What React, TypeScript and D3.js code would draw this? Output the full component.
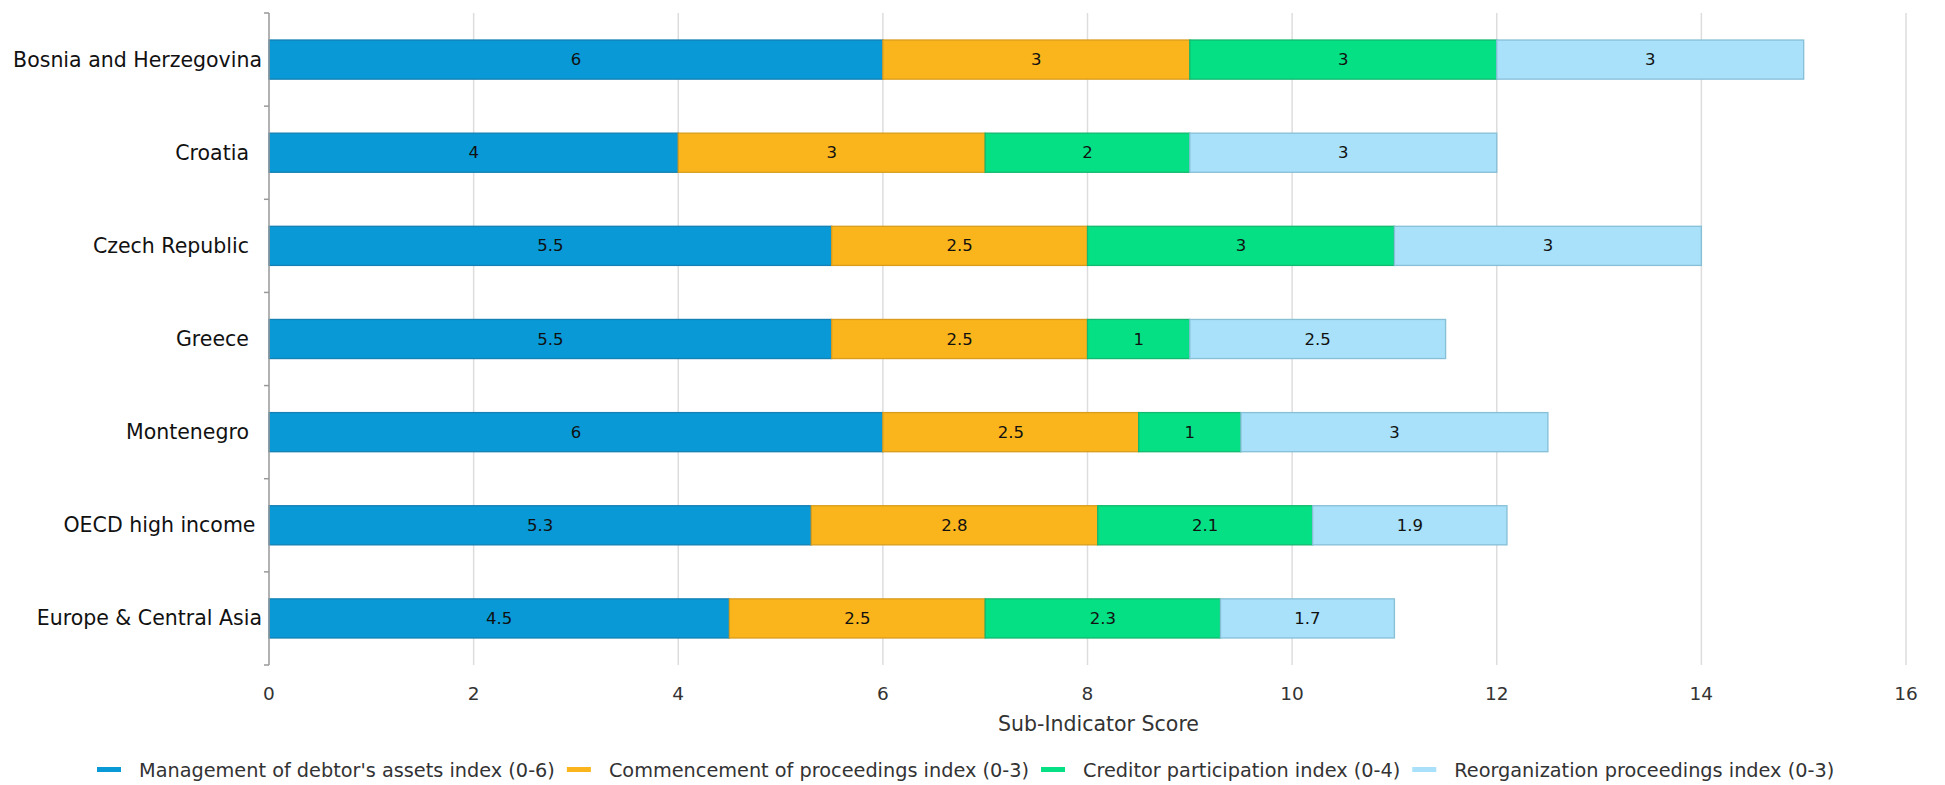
import React, { useEffect, useRef } from 'react';
import * as d3 from 'd3';

const categories = [
  'Bosnia and Herzegovina',
  'Croatia',
  'Czech Republic',
  'Greece',
  'Montenegro',
  'OECD high income',
  'Europe & Central Asia',
];
// labels as displayed (some carry trailing spaces in the source)
const categoryLabels = [
  'Bosnia and Herzegovina',
  'Croatia  ',
  'Czech Republic  ',
  'Greece  ',
  'Montenegro  ',
  'OECD high income ',
  'Europe & Central Asia',
];
const seriesNames = [
  "Management of debtor's assets index (0-6)",
  'Commencement of proceedings index (0-3)',
  'Creditor participation index (0-4)',
  'Reorganization proceedings index (0-3)',
];
const management = [6, 4, 5.5, 5.5, 6, 5.3, 4.5];
const commencement = [3, 3, 2.5, 2.5, 2.5, 2.8, 2.5];
const creditor = [3, 2, 3, 1, 1, 2.1, 2.3];
const reorganization = [3, 3, 3, 2.5, 3, 1.9, 1.7];
const xTicks = [0, 2, 4, 6, 8, 10, 12, 14, 16];
const fills = ['#0899d6', '#fab51c', '#06e084', '#a8e1f9'];
const strokes = ['#1480b4', '#d99c1c', '#12b96e', '#86bfd6'];
const axisTitle = 'Sub-Indicator Score';

const W = 1945;
const H = 785;
const FONT = "'DejaVu Sans', sans-serif";

export default function App() {
  const ref = useRef<SVGSVGElement | null>(null);

  useEffect(() => {
    const svg = d3.select(ref.current);
    svg.selectAll('*').remove();

    const left = 269;
    const right = 1906;
    const top = 13;
    const bottom = 665;

    const x = d3.scaleLinear().domain([0, 16]).range([left, right]);
    const y = d3.scaleBand<string>().domain(categories).range([top, bottom]).padding(0);
    const bw = y.bandwidth();
    const barH = bw * 0.42;

    const rows = categories.map((c, i) => ({
      cat: c,
      s0: management[i],
      s1: commencement[i],
      s2: creditor[i],
      s3: reorganization[i],
    }));
    const stack = d3.stack<any>().keys(['s0', 's1', 's2', 's3']);
    const layers = stack(rows);

    // grid
    svg
      .append('g')
      .selectAll('line')
      .data(xTicks.filter((t) => t !== 0))
      .join('line')
      .attr('x1', (d) => x(d))
      .attr('x2', (d) => x(d))
      .attr('y1', top)
      .attr('y2', bottom)
      .attr('stroke', '#dddddd')
      .attr('stroke-width', 1.5);

    // tick labels
    svg
      .append('g')
      .selectAll('text')
      .data(xTicks)
      .join('text')
      .attr('x', (d) => x(d))
      .attr('y', 693)
      .attr('text-anchor', 'middle')
      .attr('dominant-baseline', 'central')
      .attr('font-family', FONT)
      .attr('font-size', 18.5)
      .attr('fill', '#333')
      .text((d) => String(d));

    // axis title
    svg
      .append('text')
      .attr('x', (left + right) / 2 + 11)
      .attr('y', 724)
      .attr('text-anchor', 'middle')
      .attr('dominant-baseline', 'central')
      .attr('font-family', FONT)
      .attr('font-size', 20.5)
      .attr('fill', '#333')
      .text(axisTitle);

    // bars
    layers.forEach((layer, li) => {
      const g = svg.append('g');
      g.selectAll('rect')
        .data(layer)
        .join('rect')
        .attr('x', (d) => x(d[0]))
        .attr('y', (d) => (y(d.data.cat) as number) + (bw - barH) / 2)
        .attr('width', (d) => x(d[1]) - x(d[0]))
        .attr('height', barH)
        .attr('fill', fills[li])
        .attr('stroke', strokes[li])
        .attr('stroke-width', 1.3);
      g.selectAll('text')
        .data(layer)
        .join('text')
        .attr('x', (d) => (x(d[0]) + x(d[1])) / 2)
        .attr('y', (d) => (y(d.data.cat) as number) + bw / 2)
        .attr('text-anchor', 'middle')
        .attr('dominant-baseline', 'central')
        .attr('font-family', FONT)
        .attr('font-size', 16.5)
        .attr('fill', '#111')
        .text((d) => String(+(d[1] - d[0]).toFixed(1)));
    });

    // y axis
    const ya = svg.append('g').attr('stroke', '#999').attr('stroke-width', 1.5);
    ya.append('line').attr('x1', left).attr('x2', left).attr('y1', top).attr('y2', bottom);
    const bounds = categories.map((c) => y(c) as number).concat([bottom]);
    ya.selectAll('line.tk')
      .data(bounds)
      .join('line')
      .attr('class', 'tk')
      .attr('x1', left - 5)
      .attr('x2', left)
      .attr('y1', (d) => d)
      .attr('y2', (d) => d);

    // category labels
    svg
      .append('g')
      .selectAll('text')
      .data(categories)
      .join('text')
      .attr('x', left - 7)
      .attr('y', (d) => (y(d) as number) + bw / 2)
      .attr('text-anchor', 'end')
      .attr('dominant-baseline', 'central')
      .attr('font-family', FONT)
      .attr('font-size', 20.5)
      .attr('fill', '#111')
      .style('white-space', 'pre')
      .text((d, i) => categoryLabels[i]);

    // legend
    const lg = svg.append('g');
    let cx = 97;
    const ly = 770;
    seriesNames.forEach((name, i) => {
      lg.append('rect')
        .attr('x', cx)
        .attr('y', ly - 3)
        .attr('width', 24)
        .attr('height', 5)
        .attr('fill', fills[i]);
      const t = lg
        .append('text')
        .attr('x', cx + 42)
        .attr('y', ly)
        .attr('dominant-baseline', 'central')
        .attr('font-family', FONT)
        .attr('font-size', 19.3)
        .attr('fill', '#333')
        .text(name);
      const w = (t.node() as SVGTextElement).getComputedTextLength();
      cx = cx + 42 + w + 12;
    });
  }, []);

  return (
    <svg
      ref={ref}
      width={W}
      height={H}
      style={{ position: 'absolute', left: 0, top: 0, background: '#fff' }}
    />
  );
}
